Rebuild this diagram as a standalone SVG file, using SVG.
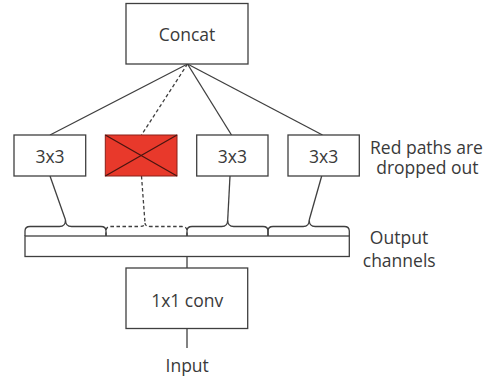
<svg xmlns="http://www.w3.org/2000/svg" width="491" height="382" viewBox="0 0 491 382">
  <style>
    .box { fill: #ffffff; stroke: #3f3f3f; stroke-width: 1.3; }
    .drop { fill: #e8392b; stroke: #8a2018; stroke-width: 1; }
    .cross { stroke: #4a1510; stroke-width: 1.3; fill: none; }
    .lbl { font-family: "Open Sans", "Noto Sans", "Liberation Sans", sans-serif; font-size: 17.5px; fill: #3a3a3a; text-anchor: middle; }
    .wire { fill: none; stroke: #3f3f3f; stroke-width: 1.3; }
    .dash { fill: none; stroke: #3f3f3f; stroke-width: 1.3; stroke-dasharray: 3.5 2.5; }
  </style>
  <rect width="491" height="382" fill="#ffffff"/>

  <!-- connectors -->
  <g id="connectors">
    <!-- branches into Concat -->
    <line class="wire" x1="187.5" y1="64" x2="50" y2="135"/>
    <line class="dash" x1="187.5" y1="64" x2="141.5" y2="135"/>
    <line class="wire" x1="187.5" y1="64" x2="231.5" y2="135"/>
    <line class="wire" x1="187.5" y1="64" x2="322.5" y2="135"/>
    <!-- branches out of the channel braces -->
    <line class="wire" x1="50" y1="176" x2="65.5" y2="220"/>
    <line class="dash" x1="141.5" y1="176" x2="145" y2="223"/>
    <line class="wire" x1="230" y1="176" x2="227.7" y2="220"/>
    <line class="wire" x1="321.7" y1="176" x2="309.2" y2="220"/>
    <!-- channel group braces -->
    <path class="wire" d="M25,236 L25,231 Q25,226.5 30,226.5 L59.5,226.5 Q65.5,226.5 65.5,220 Q65.5,226.5 71.5,226.5 L101,226.5 Q106,226.5 106,231 L106,236"/>
    <path class="dash" d="M106,236 L106,231 Q106,226.5 111,226.5 L139.5,226.5 Q145,226.5 145,223 Q145,226.5 150.5,226.5 L182,226.5 Q187,226.5 187,231 L187,236"/>
    <path class="wire" d="M187,236 L187,231 Q187,226.5 192,226.5 L221.7,226.5 Q227.7,226.5 227.7,220 Q227.7,226.5 233.7,226.5 L263,226.5 Q268,226.5 268,231 L268,236"/>
    <path class="wire" d="M268,236 L268,231 Q268,226.5 273,226.5 L303.2,226.5 Q309.2,226.5 309.2,220 Q309.2,226.5 315.2,226.5 L344.3,226.5 Q349.3,226.5 349.3,231 L349.3,236"/>
    <!-- trunk -->
    <line class="wire" x1="187" y1="256.5" x2="187" y2="268"/>
    <line class="wire" x1="187" y1="328.5" x2="187" y2="348"/>
  </g>

  <g id="concat">
    <rect class="box" x="126" y="3.5" width="122" height="60.5"/>
    <text class="lbl" x="187" y="41">Concat</text>
  </g>

  <g id="conv3x3-a">
    <rect class="box" x="14" y="135" width="71.7" height="41"/>
    <text class="lbl" x="50" y="162.7">3x3</text>
  </g>

  <g id="conv3x3-dropped">
    <rect class="drop" x="105.3" y="135" width="71.7" height="41"/>
    <path class="cross" d="M105.3,135 L177,176 M105.3,176 L177,135"/>
  </g>

  <g id="conv3x3-c">
    <rect class="box" x="196.7" y="135" width="71.3" height="41"/>
    <text class="lbl" x="232.4" y="162.7">3x3</text>
  </g>

  <g id="conv3x3-d">
    <rect class="box" x="288" y="135" width="71.3" height="41"/>
    <text class="lbl" x="323.7" y="162.7">3x3</text>
  </g>

  <g id="output-channels">
    <rect class="box" x="25" y="236" width="324.3" height="20.5"/>
  </g>

  <g id="conv1x1">
    <rect class="box" x="126" y="268" width="121.7" height="60.5"/>
    <text class="lbl" x="187.2" y="306.7">1x1 conv</text>
  </g>

  <g id="labels">
    <text class="lbl" x="426.5" y="153.5">Red paths are</text>
    <text class="lbl" x="427.4" y="173.5">dropped out</text>
    <text class="lbl" x="399" y="244">Output</text>
    <text class="lbl" x="399.2" y="266.7">channels</text>
    <text class="lbl" x="187.2" y="371.7">Input</text>
  </g>
</svg>
